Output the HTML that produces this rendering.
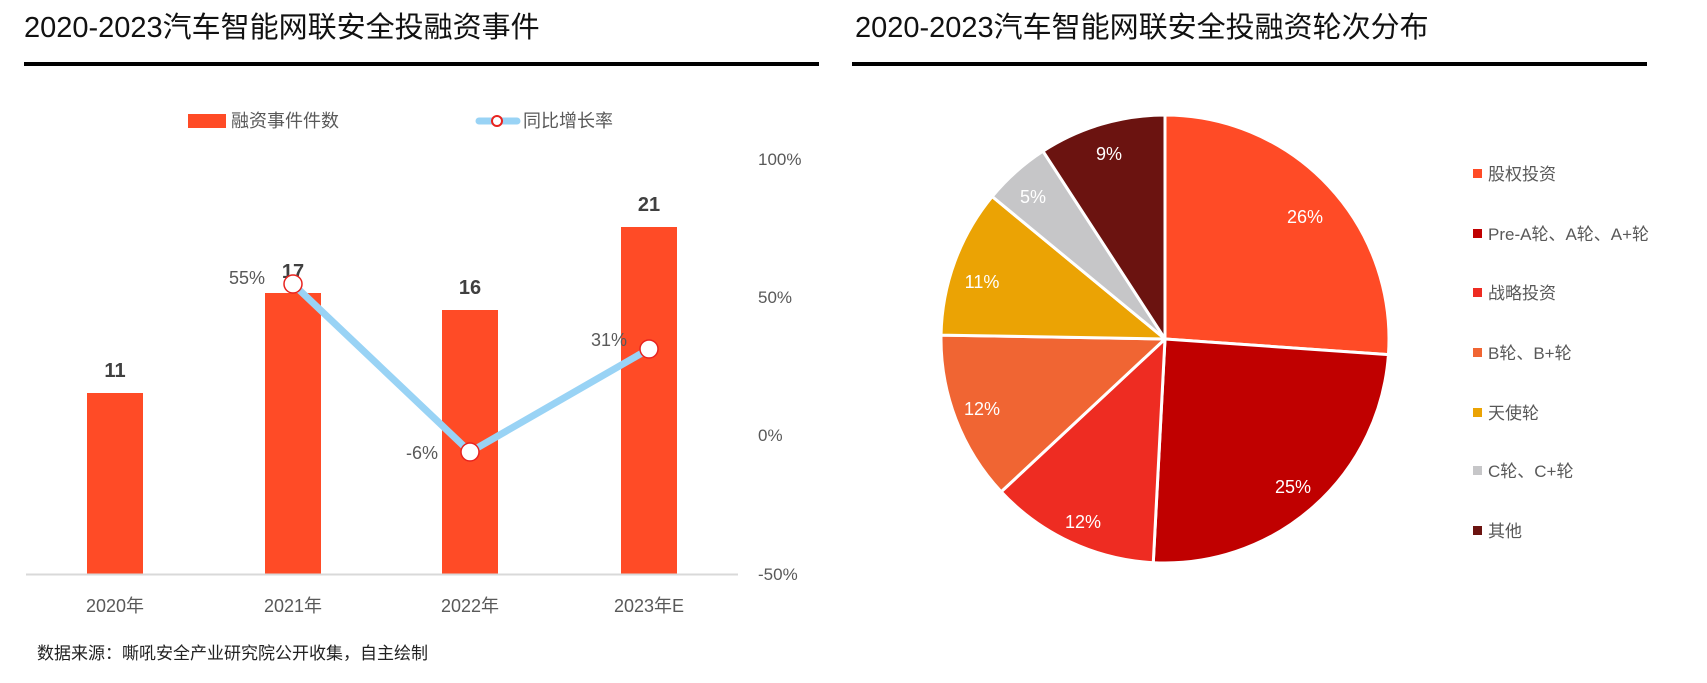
<!DOCTYPE html>
<html><head><meta charset="utf-8"><style>
html,body{margin:0;padding:0;background:#fff;}
svg{display:block;}
text{font-family:"Liberation Sans","Noto Sans CJK SC",sans-serif;}
</style></head><body>
<svg width="1707" height="683" viewBox="0 0 1707 683" xmlns="http://www.w3.org/2000/svg">
<text x="24" y="37" font-size="29" fill="#111">2020-2023汽车智能网联安全投融资事件</text>
<rect x="24" y="62" width="795" height="4" fill="#000"/>
<text x="855" y="37" font-size="29" fill="#111">2020-2023汽车智能网联安全投融资轮次分布</text>
<rect x="852" y="62" width="795" height="4" fill="#000"/>

<rect x="188" y="114" width="38" height="14" fill="#FF4B26"/>
<text x="231" y="127" font-size="18" fill="#595959">融资事件件数</text>
<line x1="479" y1="121" x2="517" y2="121" stroke="#99D3F5" stroke-width="7" stroke-linecap="round"/>
<circle cx="497" cy="121" r="5" fill="#fff" stroke="#E8231F" stroke-width="2"/>
<text x="523" y="127" font-size="18" fill="#595959">同比增长率</text>

<g fill="#FF4B26">
<rect x="87" y="393" width="56" height="181"/>
<rect x="265" y="293" width="56" height="281"/>
<rect x="442" y="310" width="56" height="264"/>
<rect x="621" y="227" width="56" height="347"/>
</g>
<line x1="26" y1="574.5" x2="738" y2="574.5" stroke="#d9d9d9" stroke-width="2"/>
<g font-size="20" font-weight="bold" fill="#404040" text-anchor="middle">
<text x="115" y="377">11</text>
<text x="293" y="278">17</text>
<text x="470" y="294">16</text>
<text x="649" y="211">21</text>
</g>
<g font-size="17" fill="#595959">
<text x="758" y="165">100%</text>
<text x="758" y="303">50%</text>
<text x="758" y="441">0%</text>
<text x="758" y="580">-50%</text>
</g>
<polyline points="293,284 470,452 649,349" fill="none" stroke="#99D3F5" stroke-width="7" stroke-linejoin="round"/>
<g fill="#fff" stroke="#E8231F" stroke-width="1.5">
<circle cx="293" cy="284" r="9"/>
<circle cx="470" cy="452" r="9"/>
<circle cx="649" cy="349" r="9"/>
</g>
<g font-size="18" fill="#595959">
<text x="229" y="284">55%</text>
<text x="406" y="459">-6%</text>
<text x="591" y="346">31%</text>
</g>
<g font-size="18" fill="#595959" text-anchor="middle">
<text x="115" y="612">2020年</text>
<text x="293" y="612">2021年</text>
<text x="470" y="612">2022年</text>
<text x="649" y="612">2023年E</text>
</g>
<text x="37" y="659" font-size="17" fill="#222">数据来源：嘶吼安全产业研究院公开收集，自主绘制</text>

<g stroke="#fff" stroke-width="3" stroke-linejoin="round" id="pie"></g>
<g font-size="18" fill="#fff" text-anchor="middle">
<text x="1305" y="223">26%</text>
<text x="1293" y="493">25%</text>
<text x="1083" y="528">12%</text>
<text x="982" y="415">12%</text>
<text x="982" y="288">11%</text>
<text x="1033" y="203">5%</text>
<text x="1109" y="160">9%</text>
</g>
<g font-size="17" fill="#595959">
<rect x="1473" y="169" width="9" height="9" fill="#FF4B26"/><text x="1488" y="180">股权投资</text>
<rect x="1473" y="229" width="9" height="9" fill="#C00000"/><text x="1488" y="240">Pre-A轮、A轮、A+轮</text>
<rect x="1473" y="288" width="9" height="9" fill="#EE2C22"/><text x="1488" y="299">战略投资</text>
<rect x="1473" y="348" width="9" height="9" fill="#F06533"/><text x="1488" y="359">B轮、B+轮</text>
<rect x="1473" y="408" width="9" height="9" fill="#EBA304"/><text x="1488" y="419">天使轮</text>
<rect x="1473" y="466" width="9" height="9" fill="#C6C6C8"/><text x="1488" y="477">C轮、C+轮</text>
<rect x="1473" y="526" width="9" height="9" fill="#6B1310"/><text x="1488" y="537">其他</text>
</g>
<script>
(function(){
var cx=1165,cy=339,r=224;
var b=[0,94,183,227,271,309.5,327,360];
var c=["#FF4B26","#C00000","#EE2C22","#F06533","#EBA304","#C6C6C8","#6B1310"];
var g=document.getElementById("pie");
function pt(a){var t=(a-90)*Math.PI/180;return [cx+r*Math.cos(t),cy+r*Math.sin(t)];}
for(var i=0;i<7;i++){
var p1=pt(b[i]),p2=pt(b[i+1]);var large=(b[i+1]-b[i])>180?1:0;
var p=document.createElementNS("http://www.w3.org/2000/svg","path");
p.setAttribute("d","M"+cx+","+cy+" L"+p1[0]+","+p1[1]+" A"+r+","+r+" 0 "+large+" 1 "+p2[0]+","+p2[1]+" Z");
p.setAttribute("fill",c[i]);g.appendChild(p);}
})();
</script>
</svg>
</body></html>
